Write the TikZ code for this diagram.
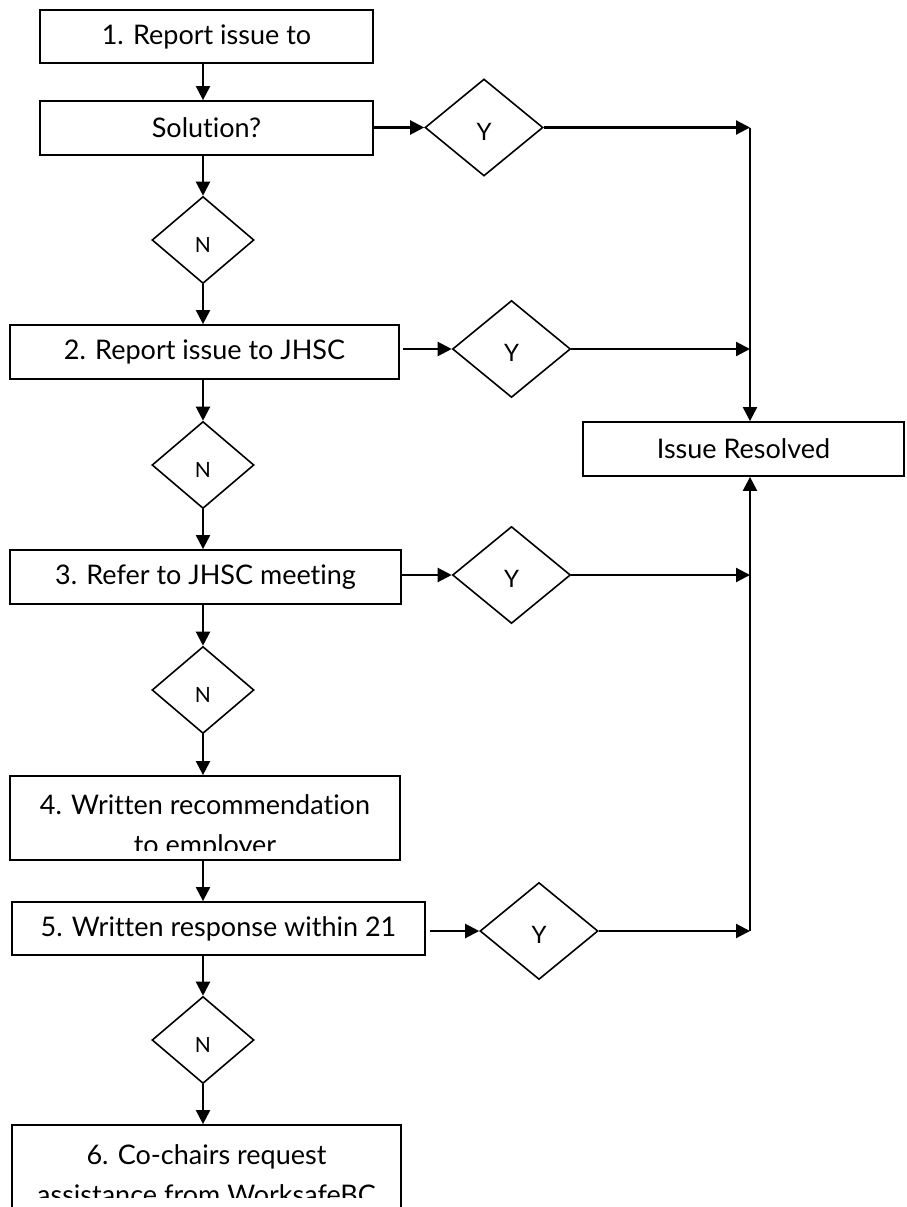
\documentclass[tikz,border=0pt]{standalone}
\usepackage{fontspec}
\setmainfont{Lato}[Ligatures={NoCommon,NoRare}]
\usetikzlibrary{shapes.geometric,arrows.meta}
\begin{document}
\begin{tikzpicture}[x=1pt,y=-1pt,
  box/.style={draw=black,line width=1.8pt,rectangle,inner sep=0pt,font=\fontsize{27}{32}\selectfont},
  txt/.style={inner sep=0pt,font=\fontsize{27}{32}\selectfont},
  dia/.style={draw=black,line width=1.6pt,diamond,inner sep=0pt},
  ydia/.style={dia,minimum width=118pt,minimum height=97pt,font=\fontsize{24}{28}\selectfont,text height=25pt},
  ndia/.style={dia,minimum width=102pt,minimum height=87pt,font=\fontsize{21}{24}\selectfont,text height=25pt},
  arr/.style={line width=2.2pt,-{Triangle[length=14pt,width=14pt]}},
  ln/.style={line width=2.2pt}]
\useasboundingbox (0,0) rectangle (906,1207);
\fill[white] (0,0) rectangle (906,1207);
% boxes
\node[box,minimum width=333pt,minimum height=53pt] (b1) at (206.5,36.5) {1. Report issue to};
\node[box,minimum width=333pt,minimum height=54pt] (bs) at (206.5,128) {Solution?};
\node[box,minimum width=389pt,minimum height=54pt] (b2) at (204.5,352) {2. Report issue to JHSC};
\node[box,minimum width=391pt,minimum height=54pt] (b3) at (205.5,577) {3. Refer to JHSC meeting};
\node[box,minimum width=390pt,minimum height=84pt] (b4) at (205,818) {};
\node[box,minimum width=413pt,minimum height=53pt] (b5) at (218.5,928.5) {5. Written response within 21};
\node[box,minimum width=389pt,minimum height=90pt] (b6) at (206.5,1170) {};
\node[box,minimum width=321pt,minimum height=54pt] (ir) at (743.5,449) {Issue Resolved};
% clipped texts
\begin{scope}
\clip ([yshift=10pt]b4.south west) rectangle (b4.north east);
\node[txt,anchor=base] (t4a) at (205,814) {4. Written recommendation};
\node[txt,anchor=base] (t4b) at (205,854) {to employer};
\end{scope}
\begin{scope}
\clip (b6.north west) rectangle ([yshift=-73pt]b6.north east);
\node[txt,anchor=base] (t6a) at (206.5,1164) {6. Co-chairs request};
\node[txt,anchor=base] (t6b) at (206.5,1204) {assistance from WorksafeBC};
\end{scope}
% diamonds
\node[ndia] (n1) at (203,240) {N};
\node[ndia] (n2) at (203,465) {N};
\node[ndia] (n3) at (203,690) {N};
\node[ndia] (n5) at (203,1040) {N};
\node[ydia] (y1) at (484,127.5) {Y};
\node[ydia] (y2) at (511.5,349) {Y};
\node[ydia] (y3) at (511.5,575) {Y};
\node[ydia] (y5) at (539,931) {Y};
\coordinate (jx) at (750,0);
% vertical flow
\draw[arr] (b1.south -| n1) -- (bs.north -| n1);
\draw[arr] (bs.south -| n1) -- (n1.north);
\draw[arr] (n1.south) -- (b2.north -| n1);
\draw[arr] (b2.south -| n1) -- (n2.north);
\draw[arr] (n2.south) -- (b3.north -| n1);
\draw[arr] (b3.south -| n1) -- (n3.north);
\draw[arr] (n3.south) -- (b4.north -| n1);
\draw[arr] (b4.south -| n1) -- (b5.north -| n1);
\draw[arr] (b5.south -| n1) -- (n5.north);
\draw[arr] (n5.south) -- (b6.north -| n1);
% to Y diamonds
\draw[arr] (bs.east |- y1) -- (y1.west);
\draw[arr] ([xshift=3pt]b2.east |- y2) -- (y2.west);
\draw[arr] (b3.east |- y3) -- (y3.west);
\draw[arr] ([xshift=4pt]b5.east |- y5) -- (y5.west);
% to resolved
\draw[arr] (y1.east) -- (y1.east -| jx);
\draw[arr] (y2.east) -- (y2.east -| jx);
\draw[arr] (y3.east) -- (y3.east -| jx);
\draw[arr] (y5.east) -- (y5.east -| jx);
\draw[arr] (y1.east -| jx) -- (ir.north -| jx);
\draw[arr] (y5.east -| jx) -- (ir.south -| jx);
\end{tikzpicture}
\end{document}
